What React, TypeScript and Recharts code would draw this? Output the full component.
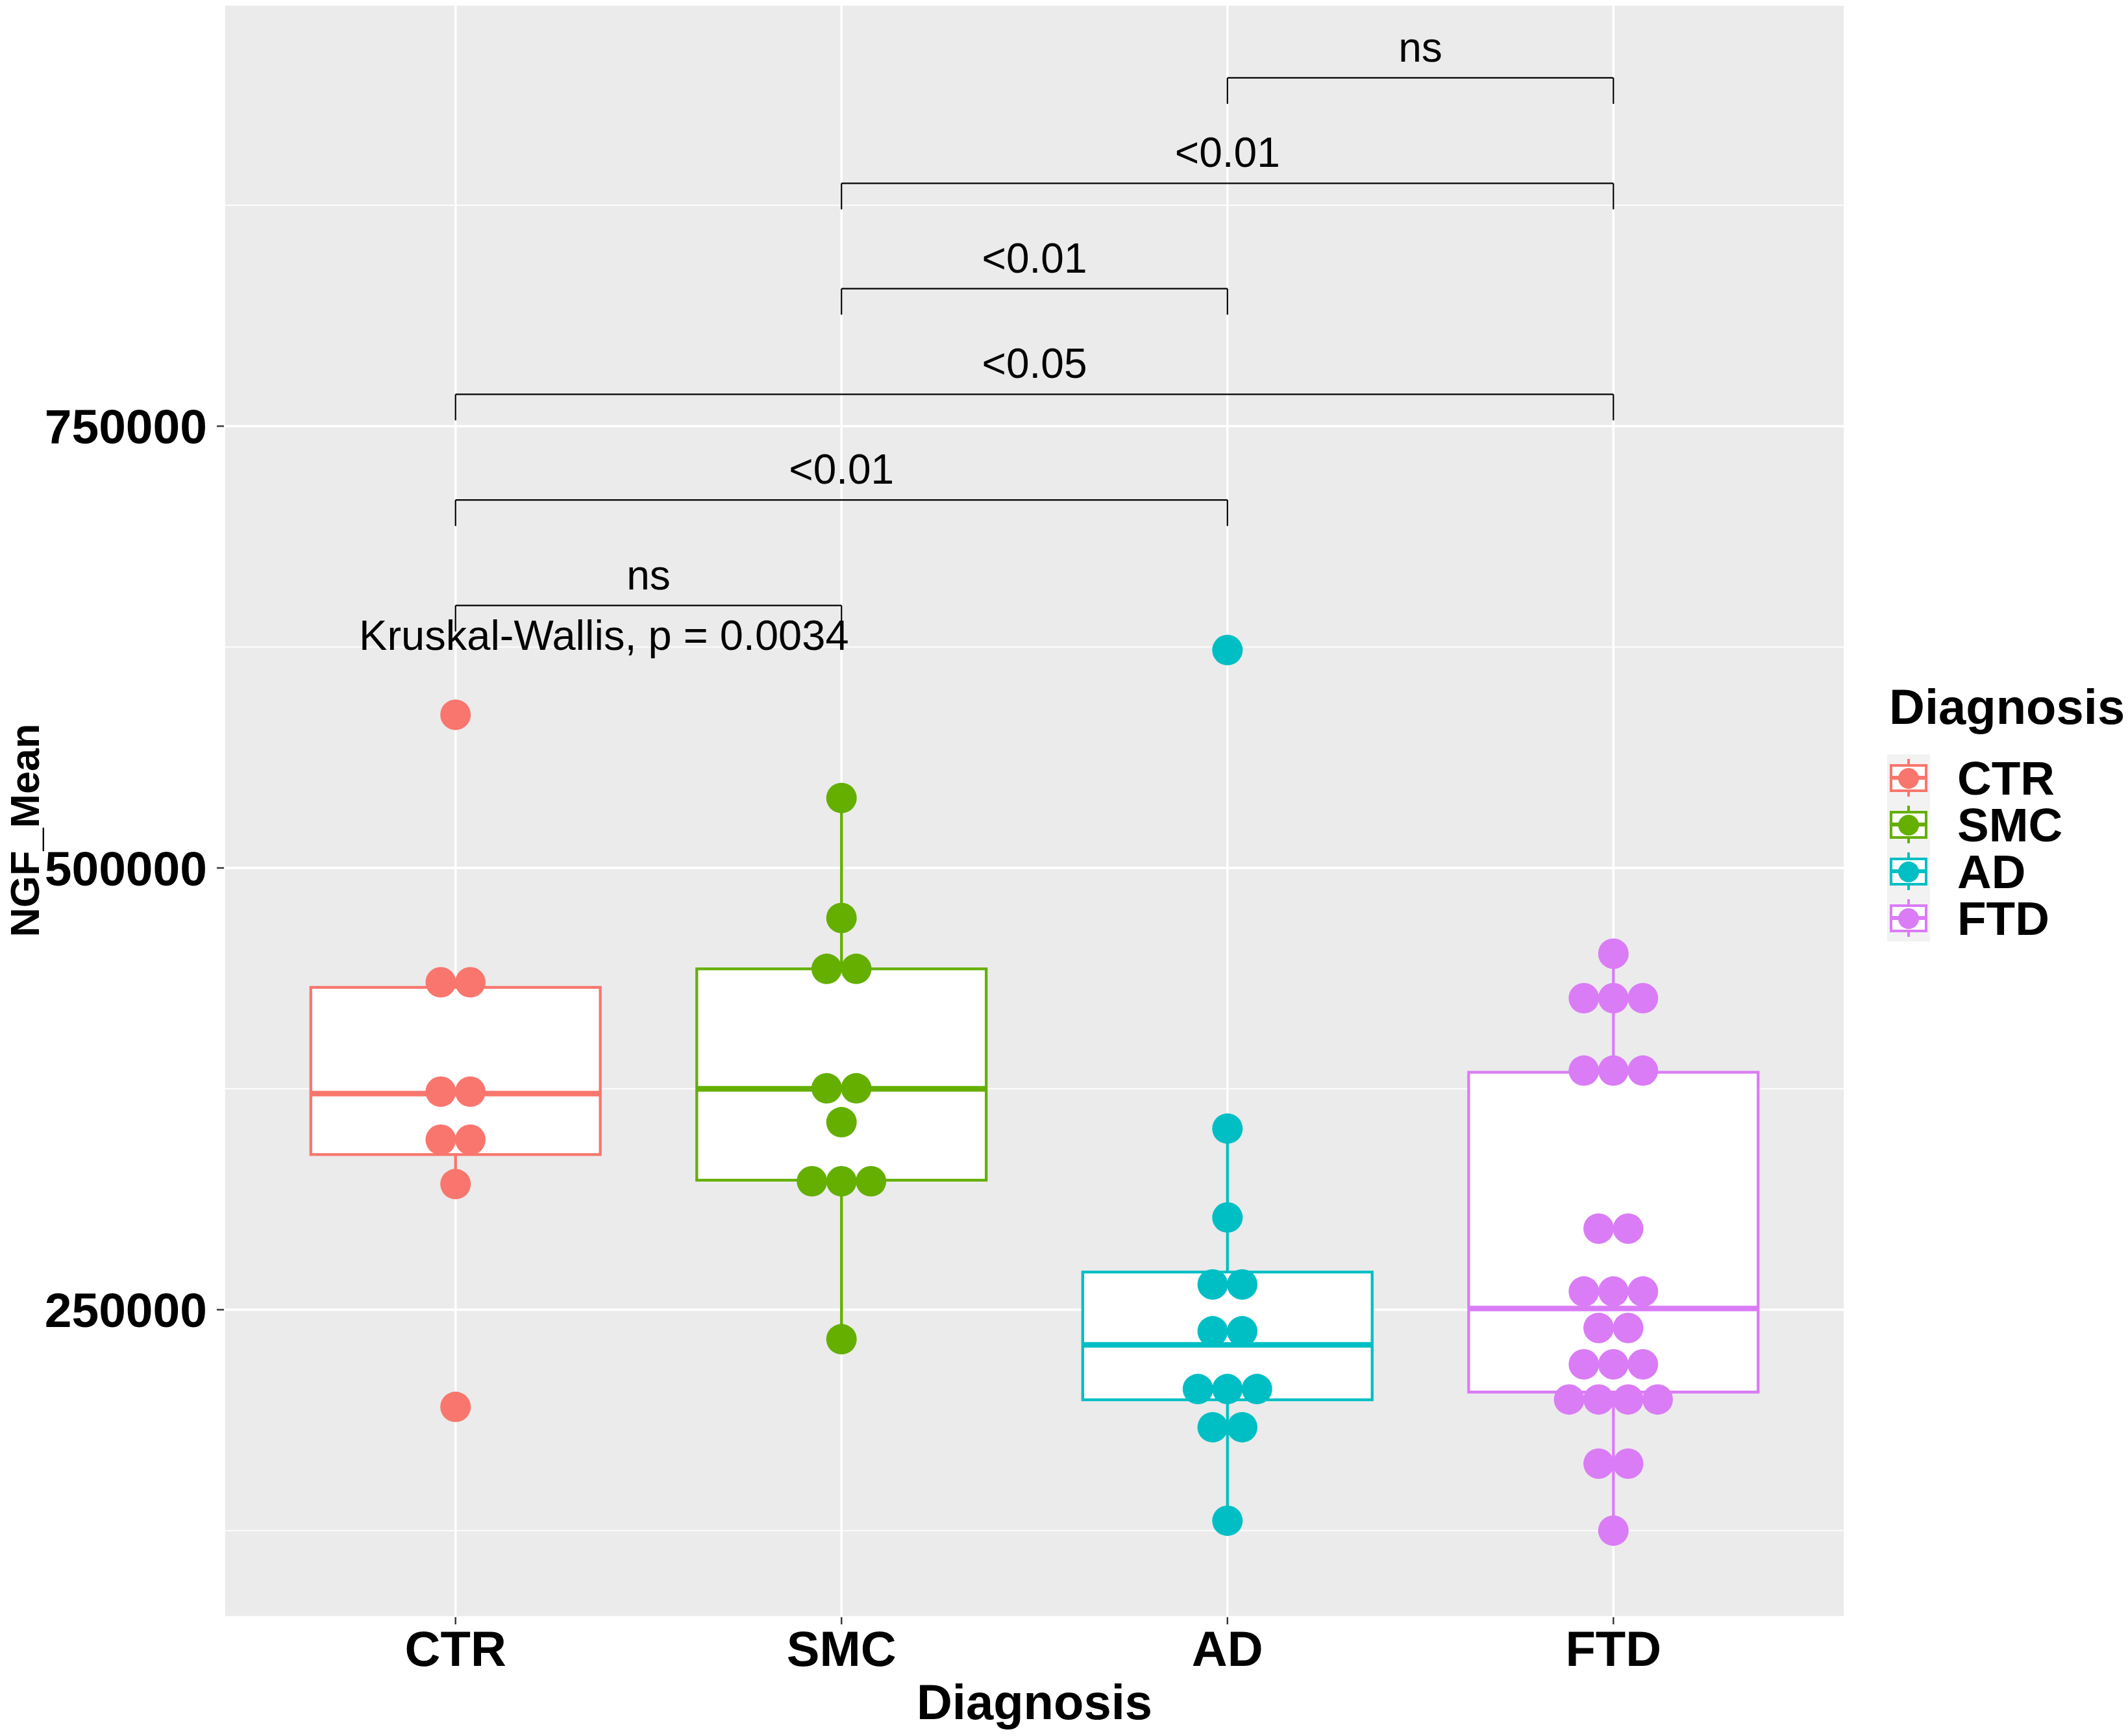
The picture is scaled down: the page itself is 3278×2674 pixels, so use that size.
import React from 'react';
import { ComposedChart, Scatter, XAxis, YAxis, CartesianGrid, ReferenceArea, ReferenceLine, ReferenceDot } from 'recharts';

// Categories and colours (as they appear in the figure)
const categories = ['CTR', 'SMC', 'AD', 'FTD'];
const colors = ['#F8766D', '#64AF00', '#00BFC4', '#DA7CF6'];

// NGF_Mean per subject (equal values sit side by side in one bin)
const ctrValues = [586700, 435300, 435300, 373400, 373400, 346200, 346200, 321100, 195000];
const smcValues = [539600, 471700, 442900, 442900, 375300, 375300, 356100, 322700, 322700, 322700, 233300];
const adValues = [623300, 352500, 302200, 264300, 264300, 237800, 237800, 205100, 205100, 205100, 183500, 183500, 130600];
const ftdValues = [
  451500, 426300, 426300, 426300, 385300, 385300, 385300, 295900, 295900,
  260300, 260300, 260300, 239700, 239700, 219100, 219100, 219100,
  199200, 199200, 199200, 199200, 162900, 162900, 125000,
];

// Boxplot statistics per group
const boxQ1 = [337800, 323300, 199000, 203400];
const boxMedian = [372300, 375000, 230100, 250700];
const boxQ3 = [432400, 442900, 271300, 384400];
const whiskerLow = [321100, 233300, 130600, 125000];
const whiskerHigh = [435300, 539600, 352500, 451500];

// Pairwise comparison brackets
const compareFrom = [1, 1, 1, 2, 2, 3];
const compareTo = [2, 3, 4, 3, 4, 4];
const compareY = [648500, 708200, 768000, 827800, 887400, 947100];
const compareLabels = ['ns', '<0.01', '<0.05', '<0.01', '<0.01', 'ns'];
const TIP = 14700;

const kruskalLabel = 'Kruskal-Wallis, p = 0.0034';
const kruskalY = 623300;

const yTicks = [250000, 500000, 750000];
const yMinor = [125000, 375000, 625000, 875000];

const BOX_HALF = 0.375;
const DOT_STEP = 0.0765;
const DOT_R = 23.5;
const FONT = '"Liberation Sans", Arial, Helvetica, sans-serif';

// centre the dots of one bin around the category position
function stackDots(values: number[], index: number) {
  const bins = new Map<number, number>();
  values.forEach(v => bins.set(v, (bins.get(v) || 0) + 1));
  const pts: { x: number; y: number }[] = [];
  bins.forEach((n, v) => {
    for (let k = 0; k < n; k++) pts.push({ x: index + (k - (n - 1) / 2) * DOT_STEP, y: v });
  });
  return pts;
}

const groups = [ctrValues, smcValues, adValues, ftdValues];

const Legend = () => (
  <svg width={371} height={420} style={{ position: 'absolute', left: 2907, top: 1040 }}>
    <text x={3} y={75} fontSize={76} fontWeight={700} fontFamily={FONT} fill="#000">Diagnosis</text>
    <rect x={0} y={122} width={66} height={288} fill="#F2F2F2" />
    {categories.map((c, i) => {
      const cy = 158 + 72 * i;
      return (
        <g key={c}>
          <line x1={33} x2={33} y1={cy - 29} y2={cy + 29} stroke={colors[i]} strokeWidth={4} />
          <rect x={6} y={cy - 19} width={54} height={39} fill="#fff" stroke={colors[i]} strokeWidth={4} />
          <line x1={6} x2={60} y1={cy} y2={cy} stroke={colors[i]} strokeWidth={6} />
          <circle cx={33} cy={cy + 1} r={16} fill={colors[i]} />
          <text x={108} y={cy + 26} fontSize={73} fontWeight={700} fontFamily={FONT} fill="#000">{c}</text>
        </g>
      );
    })}
  </svg>
);

export default function App() {
  return (
    <div style={{ position: 'relative', width: 3278, height: 2674, background: '#fff', fontFamily: FONT }}>
      <style>{'body{margin:0}'}</style>
      <ComposedChart width={3278} height={2674} margin={{ top: 7, right: 436, bottom: 0, left: 0 }}>
        <CartesianGrid fill="#EBEBEB" stroke="#FFFFFF" strokeWidth={3.6} />
        <CartesianGrid stroke="#FFFFFF" strokeWidth={1.8} vertical={false} horizontalValues={yMinor} />
        <XAxis
          type="number"
          dataKey="x"
          domain={[0.4, 4.6]}
          ticks={[1, 2, 3, 4]}
          allowDataOverflow
          tickFormatter={(v: number) => categories[v - 1]}
          axisLine={false}
          tickSize={11}
          tickMargin={10}
          tickLine={{ stroke: '#333333', strokeWidth: 2.4 }}
          tick={{ fontSize: 76, fontWeight: 700, fill: '#000' }}
          height={183}
          label={{
            content: (props: any) => {
              const vb = props.viewBox;
              return (
                <text x={vb.x + vb.width / 2} y={vb.y + 157} textAnchor="middle" fontSize={76} fontWeight={700} fill="#000">
                  Diagnosis
                </text>
              );
            },
          }}
        />
        <YAxis
          type="number"
          dataKey="y"
          domain={[76000, 988600]}
          ticks={yTicks}
          allowDataOverflow
          axisLine={false}
          width={345}
          tickSize={11}
          tickMargin={15}
          tickLine={{ stroke: '#333333', strokeWidth: 2.4 }}
          tick={{ fontSize: 75, fontWeight: 700, fill: '#000' }}
          label={{
            content: (props: any) => {
              const vb = props.viewBox;
              const cx = vb.x + 60;
              const cy = vb.y + vb.height / 2 + 30;
              return (
                <text x={cx} y={cy} transform={`rotate(-90 ${cx} ${cy})`} textAnchor="middle" fontSize={63} fontWeight={700} fill="#000">
                  NGF_Mean
                </text>
              );
            },
          }}
        />

        {/* boxplots */}
        {categories.map((c, i) => (
          <ReferenceLine key={`wl-${c}`} segment={[{ x: i + 1, y: whiskerLow[i] }, { x: i + 1, y: boxQ1[i] }]} stroke={colors[i]} strokeWidth={4.3} />
        ))}
        {categories.map((c, i) => (
          <ReferenceLine key={`wh-${c}`} segment={[{ x: i + 1, y: boxQ3[i] }, { x: i + 1, y: whiskerHigh[i] }]} stroke={colors[i]} strokeWidth={4.3} />
        ))}
        {categories.map((c, i) => (
          <ReferenceArea
            key={`box-${c}`}
            x1={i + 1 - BOX_HALF}
            x2={i + 1 + BOX_HALF}
            y1={boxQ1[i]}
            y2={boxQ3[i]}
            fill="#FFFFFF"
            fillOpacity={1}
            stroke={colors[i]}
            strokeWidth={4.3}
          />
        ))}
        {categories.map((c, i) => (
          <ReferenceLine
            key={`med-${c}`}
            segment={[{ x: i + 1 - BOX_HALF, y: boxMedian[i] }, { x: i + 1 + BOX_HALF, y: boxMedian[i] }]}
            stroke={colors[i]}
            strokeWidth={8.6}
          />
        ))}

        {/* comparison brackets */}
        {compareLabels.map((lab, k) => (
          <ReferenceLine
            key={`br-${k}`}
            segment={[{ x: compareFrom[k], y: compareY[k] }, { x: compareTo[k], y: compareY[k] }]}
            stroke="#000"
            strokeWidth={2.2}
          />
        ))}
        {compareLabels.map((lab, k) => (
          <ReferenceLine
            key={`tl-${k}`}
            segment={[{ x: compareFrom[k], y: compareY[k] - TIP }, { x: compareFrom[k], y: compareY[k] }]}
            stroke="#000"
            strokeWidth={2.2}
          />
        ))}
        {compareLabels.map((lab, k) => (
          <ReferenceLine
            key={`tr-${k}`}
            segment={[{ x: compareTo[k], y: compareY[k] - TIP }, { x: compareTo[k], y: compareY[k] }]}
            stroke="#000"
            strokeWidth={2.2}
          />
        ))}
        {compareLabels.map((lab, k) => (
          <ReferenceDot
            key={`lab-${k}`}
            x={(compareFrom[k] + compareTo[k]) / 2}
            y={compareY[k]}
            r={0}
            shape={(p: any) => (
              <text x={p.cx} y={p.cy - 25} textAnchor="middle" fontSize={64} fill="#000">{lab}</text>
            )}
          />
        ))}

        {/* dots */}
        {groups.map((vals, i) => (
          <Scatter
            key={`dots-${categories[i]}`}
            name={categories[i]}
            data={stackDots(vals, i + 1)}
            isAnimationActive={false}
            shape={(p: any) => <circle cx={p.cx} cy={p.cy} r={DOT_R} fill={colors[i]} />}
          />
        ))}

        <ReferenceDot
          x={0.75}
          y={kruskalY}
          r={0}
          shape={(p: any) => (
            <text x={p.cx} y={p.cy} textAnchor="start" fontSize={65} fill="#000">{kruskalLabel}</text>
          )}
        />
      </ComposedChart>
      <Legend />
    </div>
  );
}
